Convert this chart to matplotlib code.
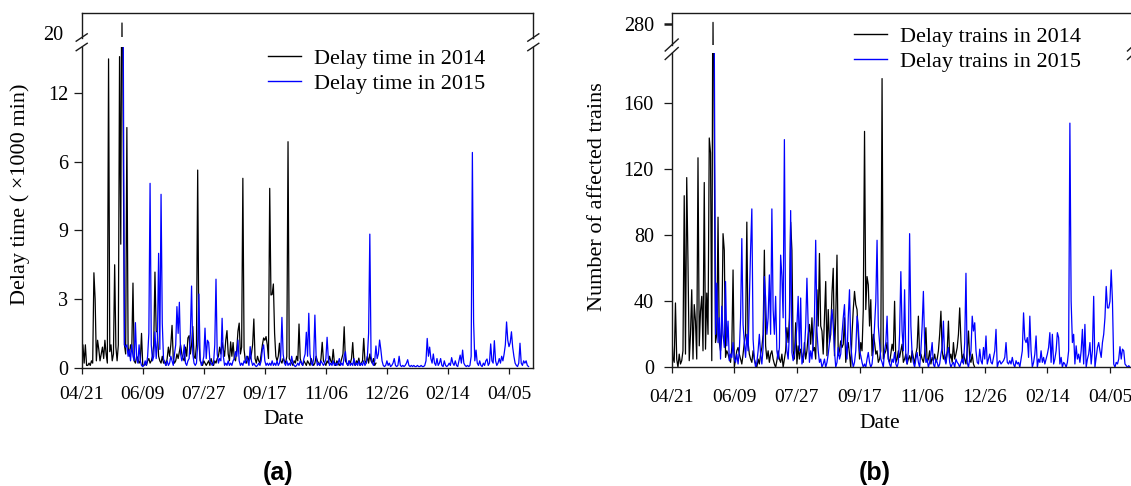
import matplotlib
matplotlib.use("Agg")
import matplotlib.pyplot as plt
from matplotlib.lines import Line2D

plt.rcParams['font.family'] = ['Liberation Serif', 'DejaVu Serif']

# ---------------- data ----------------
date_ticks = [0, 50, 100, 150, 200, 250, 300, 350]
date_labels = ["04/21", "06/09", "07/27", "09/17", "11/06", "12/26", "02/14", "04/05"]

# (a) delay time, daily values (x1000 min); 2014 starts at day 0, 2015 starts at day 34
time_2014_start = 0
time_2014 = [
    1.0, 1.0, 0.2, 1.0, 0.1, 0.1, 0.2, 0.1, 0.3, 0.2,
    4.15, 3.0, 0.3, 1.2, 0.8, 0.3, 0.6, 0.9, 0.4, 1.2,
    0.6, 0.2, 13.5, 0.7, 1.0, 0.3, 0.6, 4.5, 0.9, 0.3,
    1.0, 13.6, 5.4, 20.45, 10.1, 1.0, 0.6, 10.5, 0.9, 0.5,
    1.0, 0.8, 3.7, 0.3, 0.2, 0.5, 0.4, 0.2, 0.3, 1.5,
    0.1, 0.1, 0.2, 0.1, 0.3, 0.4, 0.2, 0.3, 0.5, 1.0,
    4.18, 1.6, 1.55, 0.5, 0.3, 0.2, 0.5, 0.2, 0.3, 0.1,
    0.4, 0.9, 0.5, 1.0, 1.85, 0.4, 0.2, 0.3, 0.6, 0.4,
    0.7, 1.0, 0.6, 0.4, 0.3, 0.9, 0.5, 1.3, 1.4, 0.6,
    1.0, 1.8, 0.5, 0.4, 1.0, 8.64, 1.2, 0.3, 0.2, 0.1,
    0.3, 0.2, 0.1, 0.2, 0.3, 0.1, 0.4, 0.2, 0.1, 0.3,
    0.2, 0.4, 0.5, 0.9, 0.6, 1.1, 0.8, 0.5, 1.2, 1.62,
    0.6, 0.3, 1.13, 0.5, 1.1, 0.4, 0.3, 0.8, 1.6, 1.95,
    0.6, 0.9, 8.28, 0.8, 0.3, 0.2, 0.5, 0.3, 0.4, 0.6,
    1.0, 2.13, 0.4, 0.2, 0.5, 0.3, 0.2, 0.6, 1.0, 1.3,
    1.2, 1.36, 1.0, 0.4, 7.84, 3.18, 3.2, 3.66, 1.5, 0.5,
    0.3, 0.5, 1.07, 0.3, 0.2, 0.4, 0.3, 0.2, 0.5, 9.88,
    0.4, 0.3, 0.2, 0.1, 0.3, 0.2, 0.5, 0.3, 1.91, 0.4,
    0.2, 0.1, 0.3, 0.2, 0.1, 0.3, 0.2, 0.1, 0.4, 0.2,
    0.1, 0.2, 0.5, 0.3, 0.2, 0.1, 0.4, 1.11, 0.3, 0.2,
    0.1, 0.3, 0.2, 0.5, 0.3, 0.2, 0.8, 0.2, 0.1, 0.3,
    0.2, 0.1, 0.2, 0.4, 0.6, 1.79, 0.3, 0.2, 0.1, 0.3,
    0.2, 0.4, 1.1, 0.2, 0.1, 0.3, 0.2, 0.42, 0.1, 0.2,
    0.3, 1.28, 0.3, 0.2, 0.5, 0.2, 0.6, 0.3, 0.2, 0.4,
    0.1, 0.2,
]
time_2015_start = 34
time_2015 = [
    15.0, 1.0, 0.9, 1.0, 0.5, 0.8, 0.3, 1.0, 0.5, 0.3,
    1.97, 0.4, 0.2, 1.0, 0.3, 0.1, 0.05, 0.1, 0.3, 0.1,
    0.5, 1.5, 8.06, 1.0, 0.3, 0.5, 1.57, 0.4, 1.2, 5.0,
    0.8, 7.58, 1.95, 0.4, 0.2, 0.1, 0.3, 0.1, 0.2, 0.5,
    0.3, 0.1, 0.6, 1.0, 2.67, 1.5, 2.86, 0.6, 0.3, 0.5,
    1.0, 0.2, 0.1, 0.3, 0.4, 1.5, 3.57, 0.6, 0.2, 0.1,
    0.2, 1.0, 3.22, 0.4, 0.1, 0.2, 0.5, 1.73, 0.4, 1.2,
    1.1, 0.3, 0.2, 0.1, 0.2, 1.0, 3.87, 0.6, 0.2, 0.4,
    0.3, 2.16, 0.5, 0.1, 0.2, 0.1, 0.3, 0.1, 0.2, 0.1,
    0.3, 0.4, 0.7, 0.5, 1.21, 0.3, 0.1, 0.2, 0.1, 0.3,
    0.2, 0.5, 0.3, 0.1, 0.92, 0.3, 0.1, 0.2, 0.1, 0.05,
    0.1, 0.2, 0.1, 0.3, 0.8, 1.0, 0.3, 0.1, 0.2, 0.1,
    0.2, 0.1, 0.3, 0.1, 0.2, 0.1, 0.3, 0.1, 0.2, 0.5,
    2.2, 0.6, 0.2, 0.1, 0.3, 0.1, 0.2, 0.1, 0.5, 0.2,
    0.1, 0.05, 0.1, 0.2, 0.1, 0.3, 0.2, 0.1, 0.4, 0.6,
    1.55, 0.5, 2.38, 0.6, 0.2, 0.1, 0.4, 2.3, 0.5, 0.1,
    0.2, 0.1, 0.3, 0.2, 0.1, 0.2, 0.4, 1.33, 0.4, 0.1,
    0.2, 0.1, 0.3, 0.1, 0.2, 0.1, 0.2, 0.4, 0.1, 0.2,
    0.1, 0.5, 0.7, 0.2, 0.1, 0.3, 0.1, 0.2, 0.1, 0.4,
    0.1, 0.2, 0.1, 0.3, 0.1, 0.2, 0.1, 0.3, 0.1, 0.2,
    0.5, 1.5, 5.84, 0.5, 0.2, 0.1, 0.3, 0.95, 0.4, 0.6,
    1.21, 0.8, 0.3, 0.1, 0.05, 0.1, 0.3, 0.1, 0.2, 0.05,
    0.1, 0.2, 0.4, 0.1, 0.05, 0.1, 0.5, 0.1, 0.05, 0.1,
    0.05, 0.1, 0.2, 0.35, 0.1, 0.05, 0.1, 0.05, 0.1, 0.05,
    0.05, 0.1, 0.05, 0.05, 0.1, 0.05, 0.05, 0.1, 0.3, 1.28,
    0.5, 0.9, 0.4, 0.2, 0.6, 0.2, 0.1, 0.4, 0.1, 0.2,
    0.4, 0.1, 0.05, 0.3, 0.1, 0.05, 0.1, 0.2, 0.1, 0.44,
    0.2, 0.1, 0.3, 0.1, 0.05, 0.3, 0.55, 0.2, 0.77, 0.2,
    0.1, 0.05, 0.1, 0.05, 0.1, 0.5, 9.41, 2.0, 0.3, 0.77,
    0.2, 0.1, 0.3, 0.1, 0.05, 0.2, 0.1, 0.3, 0.38, 0.1,
    0.2, 1.04, 0.3, 0.2, 1.18, 0.3, 0.1, 0.2, 0.4, 0.2,
    0.5, 0.3, 0.6, 1.0, 2.0, 1.2, 0.92, 1.1, 1.57, 0.9,
    0.5, 0.2, 0.1, 0.05, 0.2, 1.07, 0.2, 0.1, 0.3, 0.2,
    0.3, 0.1, 0.05,
]

# (b) number of affected trains, daily values
trains_2014_start = 0
trains_2014 = [
    22, 6, 3, 39, 5, 0, 8, 2, 4, 10,
    104, 8, 115, 64, 4, 20, 47, 5, 38, 28,
    5, 127, 13, 34, 43, 10, 112, 11, 45, 20,
    139, 130, 4, 281, 135, 15, 20, 91, 15, 10,
    20, 81, 71, 6, 10, 8, 5, 3, 12, 59,
    0, 5, 10, 12, 8, 5, 2, 8, 15, 20,
    88, 15, 8, 5, 3, 10, 5, 2, 0, 5,
    2, 8, 12, 20, 71, 13, 5, 10, 3, 8,
    10, 5, 2, 0, 4, 10, 5, 3, 8, 0,
    5, 10, 24, 15, 30, 88, 71, 10, 5, 27,
    2, 13, 5, 11, 8, 3, 15, 5, 10, 20,
    26, 14, 30, 10, 12, 5, 47, 25, 69, 25,
    22, 8, 30, 52, 7, 35, 15, 20, 45, 60,
    7, 30, 68, 7, 10, 16, 12, 14, 30, 3,
    10, 15, 8, 0, 20, 35, 46, 38, 35, 20,
    5, 15, 10, 35, 143, 35, 55, 50, 25, 41,
    7, 20, 15, 8, 10, 3, 5, 10, 175, 5,
    8, 10, 15, 5, 3, 8, 14, 10, 40, 3,
    5, 10, 6, 10, 14, 3, 5, 8, 2, 5,
    7, 3, 10, 6, 2, 8, 12, 31, 7, 8,
    5, 3, 8, 24, 3, 5, 10, 2, 6, 4,
    8, 3, 5, 10, 20, 34, 10, 5, 8, 3,
    10, 28, 5, 8, 3, 15, 5, 8, 12, 20,
    36, 16, 3, 8, 5, 2, 10, 22, 5, 3,
    8, 2, 0,
]
trains_2015_start = 34
trains_2015 = [
    200, 20, 51, 15, 30, 5, 37, 20, 12, 52,
    13, 28, 4, 8, 6, 15, 5, 3, 8, 2,
    10, 30, 78, 26, 15, 6, 20, 10, 40, 71,
    96, 17, 5, 0, 3, 10, 20, 8, 2, 12,
    55, 42, 20, 30, 56, 20, 96, 35, 20, 43,
    10, 5, 12, 68, 55, 30, 138, 22, 10, 5,
    20, 95, 9, 4, 8, 15, 25, 43, 10, 42,
    2, 5, 10, 25, 54, 25, 3, 10, 5, 15,
    30, 77, 22, 10, 3, 5, 0, 2, 5, 0,
    3, 8, 15, 25, 35, 25, 10, 0, 3, 12,
    5, 8, 20, 30, 38, 15, 5, 30, 47, 14,
    5, 0, 3, 10, 31, 25, 10, 7, 3, 0,
    2, 0, 5, 9, 3, 0, 2, 10, 25, 40,
    77, 25, 15, 5, 3, 0, 10, 15, 31, 5,
    2, 0, 5, 3, 9, 2, 0, 3, 20, 58,
    22, 10, 47, 5, 2, 10, 81, 25, 8, 3,
    0, 5, 9, 3, 0, 10, 25, 46, 14, 3,
    5, 0, 3, 8, 15, 2, 0, 5, 3, 0,
    2, 8, 12, 28, 5, 2, 8, 12, 3, 0,
    2, 3, 0, 5, 3, 2, 0, 3, 5, 2,
    15, 57, 3, 0, 5, 10, 31, 22, 27, 10,
    3, 2, 11, 4, 2, 12, 5, 19, 2, 5,
    8, 3, 2, 6, 10, 23, 0, 3, 4, 2,
    3, 4, 6, 15, 3, 2, 4, 2, 6, 2,
    0, 4, 2, 3, 0, 5, 10, 33, 17, 15,
    18, 6, 31, 10, 0, 3, 8, 19, 0, 5,
    3, 10, 3, 6, 2, 5, 8, 12, 21, 3,
    20, 2, 5, 10, 21, 18, 2, 6, 0, 3,
    2, 0, 3, 10, 148, 40, 15, 20, 2, 13,
    5, 8, 3, 10, 23, 2, 26, 0, 5, 8,
    15, 2, 10, 43, 0, 6, 12, 15, 10, 6,
    15, 20, 30, 49, 36, 36, 40, 59, 40, 2,
    0, 3, 2, 5, 12.5, 5, 11, 10, 2, 1,
    0, 1, 0,
]

# y ticks (labels as printed in the original figure)
a_yticks = [0, 3, 6, 9, 12]
a_yticklabels = ["0", "3", "9", "6", "12"]
a_ytop = [20]
b_yticks = [0, 40, 80, 120, 160]
b_ytop = [280]

# ---------------- layout ----------------
W, H = 1131, 486
fig = plt.figure(figsize=(W / 100, H / 100), dpi=100)

def rect(l, r, t, b):
    return [l / W, 1 - b / H, (r - l) / W, (b - t) / H]

C14 = "#000000"
C15 = "#0000ff"
SP = "#1a1a1a"

def days(start, vals):
    return list(range(start, start + len(vals)))

def style_pair(lo, hi, xmax, xpad):
    for ax in (lo, hi):
        ax.set_xlim(0, xmax)
        ax.set_facecolor('none')
        for s in ax.spines.values():
            s.set_color(SP)
            s.set_linewidth(1.0)
    lo.spines['top'].set_visible(False)
    hi.spines['bottom'].set_visible(False)
    hi.set_xticks([])
    lo.tick_params(axis='y', direction='out', length=5.8, width=0.9, labelsize=14.5, color=SP)
    lo.tick_params(axis='x', direction='out', length=4.3, width=0.9, labelsize=14, color=SP, pad=xpad)
    lo.set_xticks(date_ticks)
    lo.set_xticklabels(date_labels)

def breaks(ax, rectpx, y_frac, dxp, dyp):
    l, r, t, b = rectpx
    wpx, hpx = r - l, b - t
    dx, dy = dxp / wpx, dyp / hpx
    for x in (0, 1):
        ax.plot([x - dx, x + dx], [y_frac - dy, y_frac + dy], transform=ax.transAxes,
                color=SP, lw=1.0, clip_on=False)

# ----- panel (a) -----
ra_lo = (81.7, 533.3, 47.0, 367.7)
ra_hi = (81.7, 533.3, 13.3, 37.5)
a_lo = fig.add_axes(rect(*ra_lo))
a_hi = fig.add_axes(rect(*ra_hi))
for ax in (a_lo, a_hi):
    ax.plot(days(time_2014_start, time_2014), time_2014, color=C14, lw=0.9)
    ax.plot(days(time_2015_start, time_2015), time_2015, color=C15, lw=0.9)
style_pair(a_lo, a_hi, 369.9, 9)
a_lo.set_ylim(0, 14.02)
a_hi.set_ylim(19.816, 20.874)
a_lo.set_yticks(a_yticks)
a_lo.set_yticklabels(a_yticklabels)
a_lo.tick_params(axis='y', pad=4)
a_hi.set_yticks(a_ytop)
a_hi.tick_params(axis='y', length=0, labelsize=14.5, pad=13)
breaks(a_lo, ra_lo, 1.0, 5.5, 3.7)
breaks(a_hi, ra_hi, 0.0, 5.5, 3.7)

# ----- panel (b) -----
rb_lo = (671.7, 1134.0, 53.5, 367.3)
rb_hi = (671.7, 1134.0, 13.3, 45.0)
b_lo = fig.add_axes(rect(*rb_lo))
b_hi = fig.add_axes(rect(*rb_hi))
for ax in (b_lo, b_hi):
    ax.plot(days(trains_2014_start, trains_2014), trains_2014, color=C14, lw=0.9)
    ax.plot(days(trains_2015_start, trains_2015), trains_2015, color=C15, lw=0.9)
style_pair(b_lo, b_hi, 369.2, 11)
b_lo.set_ylim(0, 190.2)
b_hi.set_ylim(267.3, 286.5)
b_lo.set_yticks(b_yticks)
b_lo.tick_params(axis='y', pad=7)
b_hi.set_yticks(b_ytop)
b_hi.tick_params(axis='y', direction='out', length=5.8, width=1.8, labelsize=14.5, pad=7, color=SP)
breaks(b_lo, rb_lo, 1.0, 6.5, 6.0)
breaks(b_hi, rb_hi, 0.0, 6.5, 6.0)

# ----- legends (figure level so they sit above every axes) -----
leg_kw = dict(loc='upper left', bbox_transform=fig.transFigure, frameon=False, fontsize=16,
              handlelength=1.5, handletextpad=0.55, borderpad=0, borderaxespad=0,
              labelspacing=0.2)
fig.legend([Line2D([], [], color=C14, lw=1.0), Line2D([], [], color=C15, lw=1.0)],
           ["Delay time in 2014", "Delay time in 2015"],
           bbox_to_anchor=(268 / W, 1 - 48 / H), **leg_kw)
fig.legend([Line2D([], [], color=C14, lw=1.0), Line2D([], [], color=C15, lw=1.0)],
           ["Delay trains in 2014", "Delay trains in 2015"],
           bbox_to_anchor=(854 / W, 1 - 26 / H), **leg_kw)

# ----- labels -----
def ftext(x, y, s, **kw):
    fig.text(x / W, 1 - y / H, s, ha='center', va='center', **kw)

ftext(20.5, 194, "Delay time ( \u00d71000 min)", rotation=90, fontsize=16)
ftext(597, 196.5, "Number of affected trains", rotation=90, fontsize=16)
ftext(283.6, 420, "Date", fontsize=15.5)
ftext(880, 423.5, "Date", fontsize=15.5)
ftext(278, 473, "(a)", fontsize=18, fontweight='bold', family=['Liberation Sans', 'DejaVu Sans'])
ftext(874.5, 473, "(b)", fontsize=18, fontweight='bold', family=['Liberation Sans', 'DejaVu Sans'])

fig.savefig("out.png", dpi=100)
